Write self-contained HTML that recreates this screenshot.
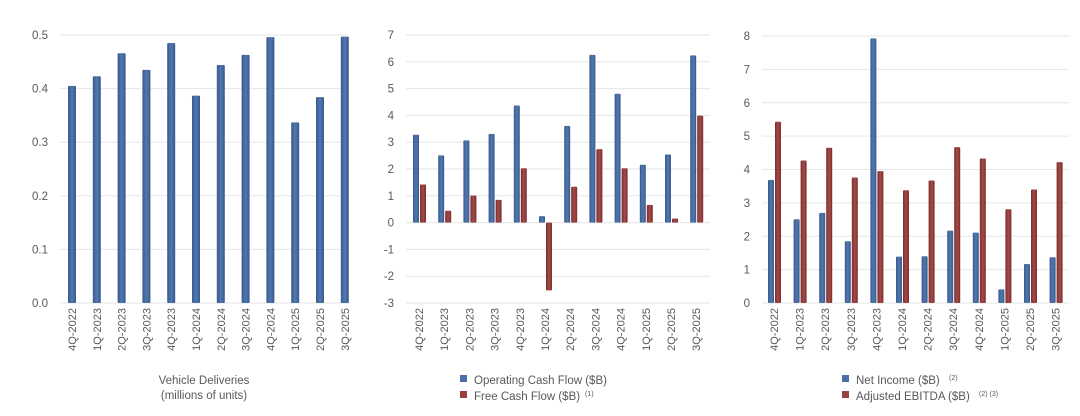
<!DOCTYPE html>
<html><head><meta charset="utf-8"><style>
html,body{margin:0;padding:0;background:#fff;}
svg{display:block;font-family:"Liberation Sans",sans-serif;}
</style></head><body>
<svg id="s" width="1080" height="416" xmlns="http://www.w3.org/2000/svg">
<defs>
<linearGradient id="gb" x1="0" x2="1"><stop offset="0" stop-color="#3a5a8c"/><stop offset="0.5" stop-color="#5078b0"/><stop offset="1" stop-color="#3a5a8c"/></linearGradient>
<linearGradient id="gr" x1="0" x2="1"><stop offset="0" stop-color="#7a2e2e"/><stop offset="0.5" stop-color="#a54a47"/><stop offset="1" stop-color="#7a2e2e"/></linearGradient>
</defs>
</svg>
<script>
var s=document.getElementById('s'),NS='http://www.w3.org/2000/svg';
function el(t,a,txt){var e=document.createElementNS(NS,t);for(var k in a)e.setAttribute(k,a[k]);if(txt!=null)e.textContent=txt;s.appendChild(e);return e;}
var cats=['4Q-2022','1Q-2023','2Q-2023','3Q-2023','4Q-2023','1Q-2024','2Q-2024','3Q-2024','4Q-2024','1Q-2025','2Q-2025','3Q-2025'];
function chart(o){
 var ppu=(o.y0-o.ytop)/(o.max-o.min);
 function Y(v){return o.y0-(v-o.min)*ppu;}
 for(var i=0;i<o.ticks.length;i++){var t=o.ticks[i];var y=Y(t);
  el('line',{x1:o.gx1,x2:o.gx2,y1:y,y2:y,stroke:'#e6e6e6','stroke-width':1});
  el('text',{x:o.gx1-12,y:y+4,'text-anchor':'end','font-size':11.5,fill:'#595959'},o.fmt(t));}
 for(var i=0;i<12;i++){var cx=o.c0+i*o.sp;
  o.series.forEach(function(ser,j){var v=ser.d[i];var x=cx+ser.off-o.bw/2;var y1=Y(Math.max(v,0)),y2=Y(Math.min(v,0));
   el('rect',{x:x,y:y1,width:o.bw,height:Math.max(y2-y1,1),fill:ser.f,rx:1});});
  var lx=cx+o.lo;
  el('text',{x:0,y:0,transform:'translate('+(lx+4)+',308) rotate(-90)','text-anchor':'end','font-size':11,fill:'#595959'},cats[i]);}
}
chart({y0:303,ytop:35,min:0,max:0.5,ticks:[0,0.1,0.2,0.3,0.4,0.5],fmt:function(t){return t.toFixed(1)},gx1:60,gx2:348,c0:72,sp:24.8,bw:8,lo:0,
 series:[{d:[0.405,0.423,0.466,0.435,0.485,0.387,0.444,0.463,0.496,0.337,0.384,0.497],f:'url(#gb)',off:0}]});
chart({y0:303,ytop:35,min:-3,max:7,ticks:[-3,-2,-1,0,1,2,3,4,5,6,7],fmt:String,gx1:406,gx2:710,c0:416,sp:25.2,bw:6,lo:3,
 series:[{d:[3.28,2.51,3.07,3.31,4.37,0.24,3.61,6.26,4.81,2.16,2.54,6.24],f:'url(#gb)',off:0},
 {d:[1.42,0.44,1.01,0.85,2.03,-2.53,1.34,2.74,2.03,0.66,0.15,3.99],f:'url(#gr)',off:7}]});
chart({y0:303,ytop:36,min:0,max:8,ticks:[0,1,2,3,4,5,6,7,8],fmt:String,gx1:762,gx2:1069,c0:771,sp:25.6,bw:6,lo:3,
 series:[{d:[3.69,2.51,2.70,1.85,7.93,1.39,1.40,2.17,2.11,0.41,1.17,1.37],f:'url(#gb)',off:0},
 {d:[5.43,4.27,4.65,3.76,3.95,3.38,3.67,4.67,4.33,2.81,3.40,4.22],f:'url(#gr)',off:7}]});
function T(x,y,t,a){el('text',{x:x,y:y,'font-size':11.5,fill:'#595959','text-anchor':a||'start'},t);}
T(204,384,'Vehicle Deliveries','middle');T(204,399,'(millions of units)','middle');
el('rect',{x:460,y:375,width:7,height:7,fill:'#4a6fa5'});T(474,384,'Operating Cash Flow ($B)');
el('rect',{x:460,y:391,width:7,height:7,fill:'#9a403d'});T(474,400,'Free Cash Flow ($B) ');
el('text',{x:585,y:396,'font-size':7,fill:'#595959'},'(1)');
el('rect',{x:842,y:375,width:7,height:7,fill:'#4a6fa5'});T(856,384,'Net Income ($B) ');
el('text',{x:949,y:380,'font-size':7,fill:'#595959'},'(2)');
el('rect',{x:842,y:391,width:7,height:7,fill:'#9a403d'});T(856,400,'Adjusted EBITDA ($B) ');
el('text',{x:979,y:396,'font-size':7,fill:'#595959'},'(2) (3)');
</script>
</body></html>
